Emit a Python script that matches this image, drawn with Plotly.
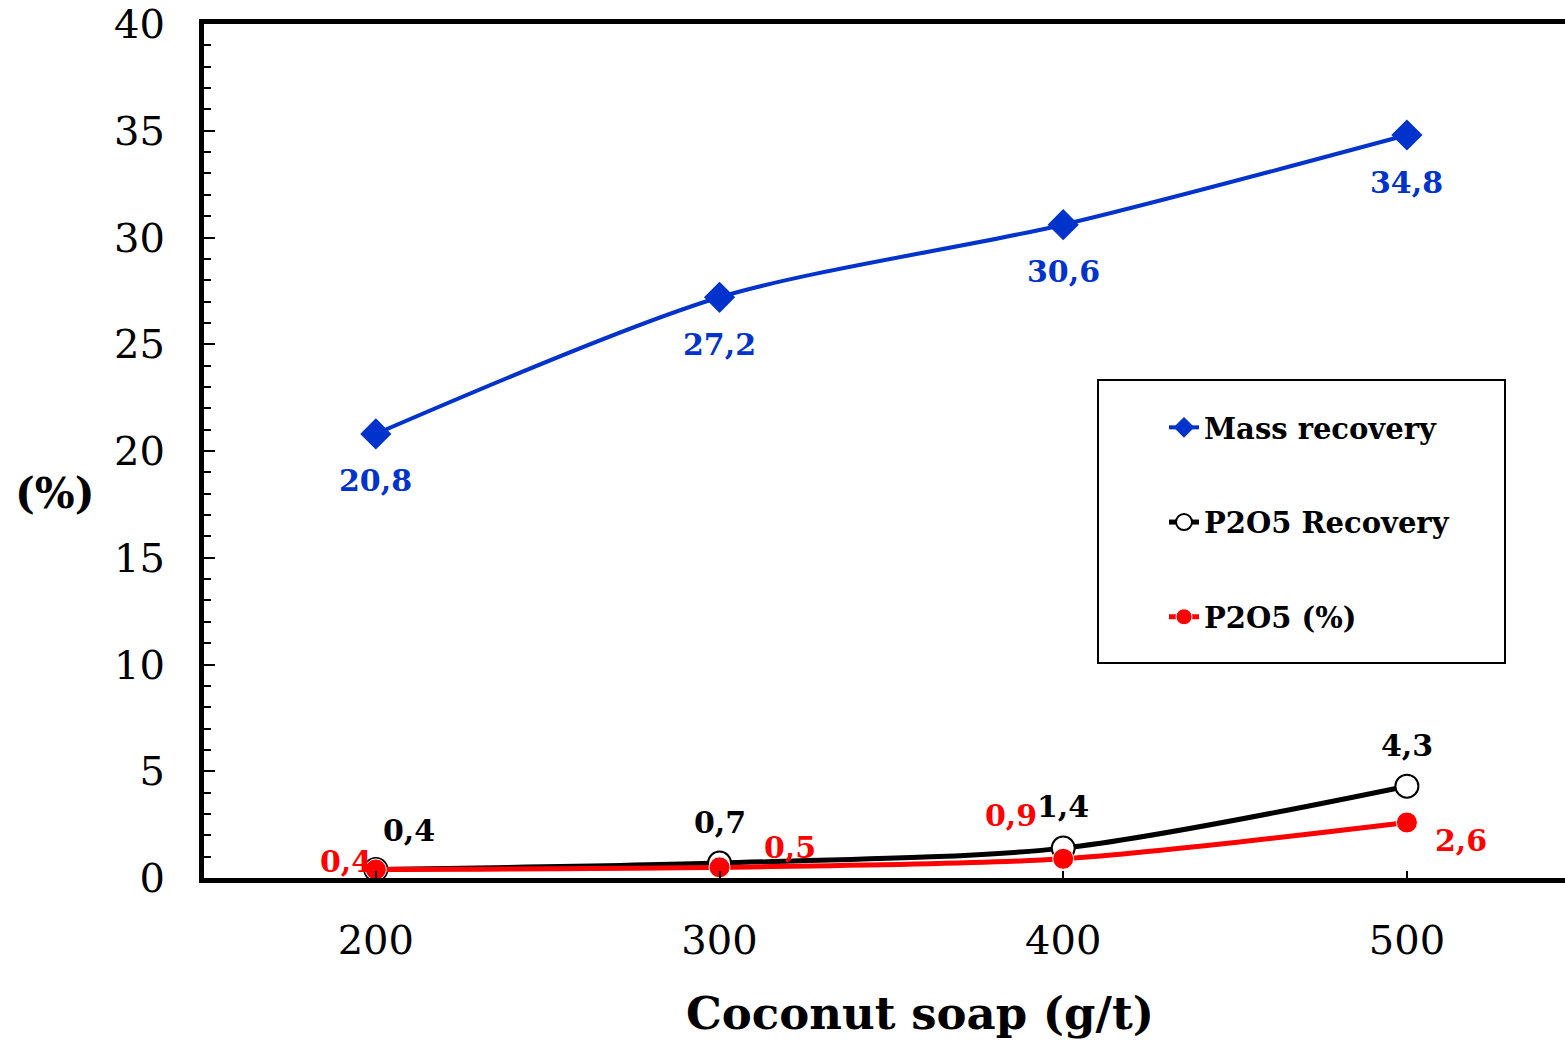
import plotly.graph_objects as go

# Coconut soap dosage (g/t)
soap_dose = [200, 300, 400, 500]

# Flotation results (%)
mass_recovery = [20.8, 27.2, 30.6, 34.8]
p2o5_recovery = [0.4, 0.7, 1.4, 4.3]
p2o5_grade = [0.4, 0.5, 0.9, 2.6]

x_ticks = [200, 300, 400, 500]
y_ticks = [0, 5, 10, 15, 20, 25, 30, 35, 40]

BLUE = "#0033CC"
RED = "#FF0000"
BLACK = "#000000"
SERIF = "DejaVu Serif"

W, H = 1565, 1043
ML, MR, MT, MB = 204, 0, 24, 165
PW, PH = W - ML - MR, H - MT - MB


def px_x(px):
    return (px - ML) / PW


def px_y(py):
    return (H - MB - py) / PH


def fmt(v):
    return f"{v:.1f}".replace(".", ",")


fig = go.Figure()

fig.add_trace(go.Scatter(
    x=soap_dose, y=mass_recovery, name="Mass recovery",
    mode="lines+markers", legendgroup="a",
    line=dict(color=BLUE, width=4, shape="spline", smoothing=0.8),
    marker=dict(symbol="diamond", size=24, color=BLUE),
))
fig.add_trace(go.Scatter(
    x=soap_dose, y=p2o5_recovery, name="P2O5 Recovery",
    mode="lines+markers", legendgroup="b",
    line=dict(color=BLACK, width=5, shape="spline", smoothing=0.8),
    marker=dict(symbol="circle", size=23, color="white",
                line=dict(color=BLACK, width=2)),
))
fig.add_trace(go.Scatter(
    x=soap_dose, y=p2o5_grade, name="P2O5 (%)",
    mode="lines+markers", legendgroup="c",
    line=dict(color=RED, width=5, shape="spline", smoothing=0.8),
    marker=dict(symbol="circle", size=21, color=RED,
                line=dict(color="white", width=1)),
))

# Value labels: (series, colour, per-point pixel offsets)
label_specs = [
    (mass_recovery, BLUE, [(0, -47), (0, -47), (0, -47), (0, -47)]),
    (p2o5_recovery, BLACK, [(33, 39), (0, 41), (0, 42), (0, 41)]),
    (p2o5_grade, RED, [(-30, 8), (70, 20), (-52, 43), (54, -18)]),
]
for series, color, offsets in label_specs:
    for xv, yv, (dx, dy) in zip(soap_dose, series, offsets):
        fig.add_annotation(
            x=xv, y=yv, text=fmt(yv), showarrow=False,
            xshift=dx, yshift=dy,
            font=dict(family=SERIF, size=30, color=color, weight="bold"),
        )

# Axis titles
fig.add_annotation(
    xref="paper", yref="paper", x=px_x(920), y=px_y(1013),
    text="Coconut soap (g/t)", showarrow=False,
    xanchor="center", yanchor="middle",
    font=dict(family=SERIF, size=45, color=BLACK, weight="bold"),
)
fig.add_annotation(
    xref="paper", yref="paper", x=px_x(55), y=px_y(493),
    text="(%)", showarrow=False, xanchor="center", yanchor="middle",
    font=dict(family=SERIF, size=42, color=BLACK, weight="bold"),
)

# Legend frame
fig.add_shape(
    type="rect", xref="paper", yref="paper",
    x0=px_x(1098), x1=px_x(1505), y0=px_y(663), y1=px_y(380),
    line=dict(color=BLACK, width=2), fillcolor="white", layer="below",
)

fig.update_layout(
    width=W, height=H,
    margin=dict(l=ML, r=MR, t=MT, b=MB, pad=0),
    paper_bgcolor="white", plot_bgcolor="white",
    showlegend=True,
    legend=dict(
        x=px_x(1164), y=px_y(402), xanchor="left", yanchor="top",
        bgcolor="rgba(0,0,0,0)", borderwidth=0,
        tracegroupgap=54,
        font=dict(family=SERIF, size=29, color=BLACK, weight="bold"),
    ),
    xaxis=dict(
        range=[150, 546], tickvals=x_ticks, ticktext=[str(t) for t in x_ticks],
        showgrid=False, zeroline=False,
        showline=True, linecolor=BLACK, linewidth=5, mirror=True,
        ticks="inside", ticklen=7, tickwidth=1.5, tickcolor=BLACK,
        ticklabelstandoff=23,
        tickfont=dict(family=SERIF, size=40, color=BLACK),
    ),
    yaxis=dict(
        range=[0, 40], tickvals=y_ticks, ticktext=[str(t) for t in y_ticks],
        showgrid=False, zeroline=False,
        showline=True, linecolor=BLACK, linewidth=5, mirror=False,
        ticks="inside", ticklen=11, tickwidth=2, tickcolor=BLACK,
        ticklabelstandoff=26,
        tickfont=dict(family=SERIF, size=40, color=BLACK),
        minor=dict(dtick=1, ticks="inside", ticklen=7, tickwidth=2,
                   tickcolor=BLACK, showgrid=False),
    ),
)

fig.write_html("out.html")
